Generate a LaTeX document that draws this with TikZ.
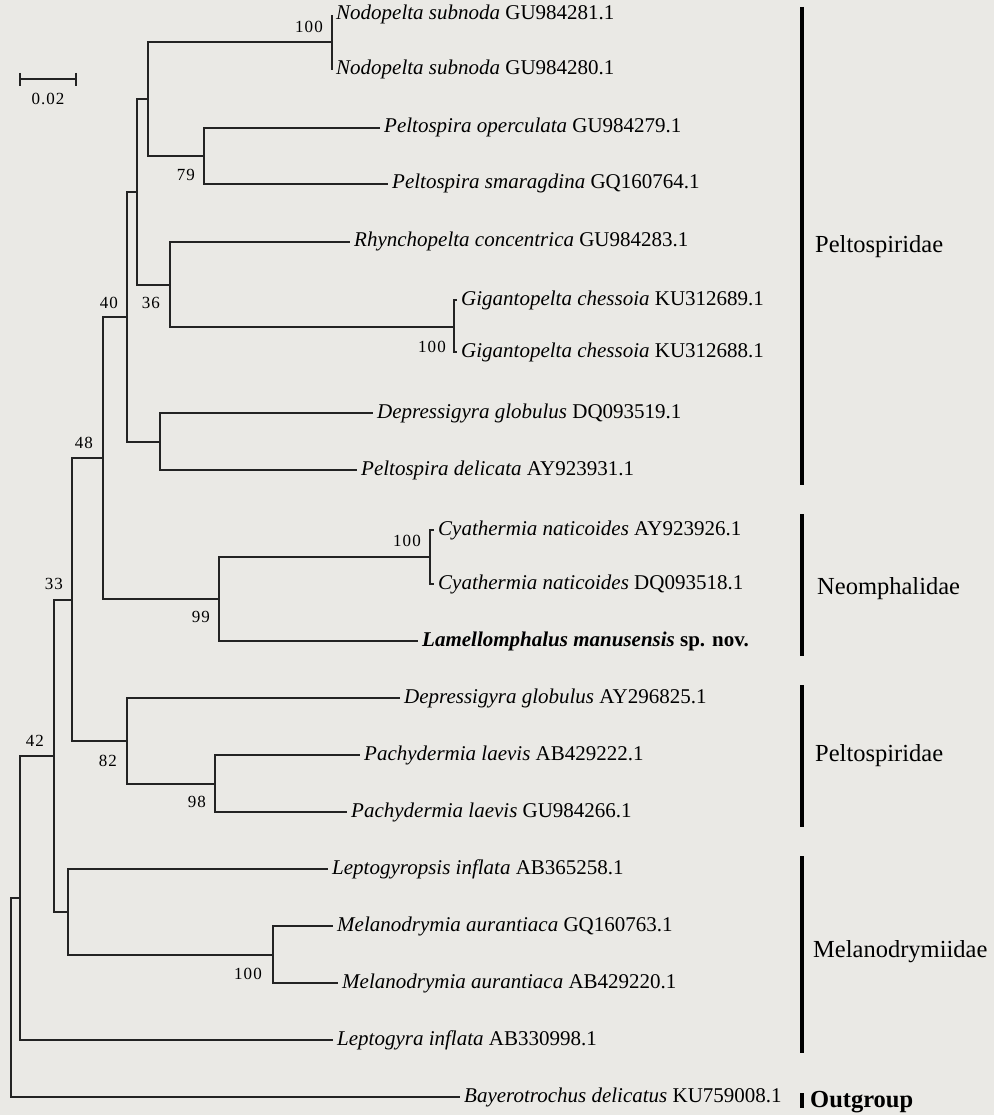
\documentclass[tikz,border=0pt]{standalone}
\usepackage{fontspec}
\setmainfont{Liberation Serif}
\newfontfamily\bootfont[LetterSpace=6]{Liberation Serif}
\definecolor{bgpaper}{RGB}{234,233,229}
\definecolor{treeline}{RGB}{35,35,35}
\tikzstyle{branch} = [draw=treeline, line width=1.2pt]
\tikzstyle{tip} = [anchor=west, 
inner xsep=4pt, 
inner ysep=2pt, 
text height=14.5pt, 
text depth=4.5pt, 
font=\fontsize{21}{25}\selectfont]
\tikzstyle{boot} = [inner sep=0pt, 
font=\bootfont\fontsize{17}{20}\selectfont]
\tikzstyle{cladebar} = [draw=black, line width=3.6pt]
\tikzstyle{clade} = [anchor=west, 
inner sep=0pt, 
font=\fontsize{24.5}{28}\selectfont]

\begin{document}
\begin{tikzpicture}[x=1pt, y=-1pt]
\useasboundingbox [fill=bgpaper] (0,0) rectangle (994,1115);

% tips
\node (t1) [tip] at (332,15) {\textit{Nodopelta subnoda} GU984281.1};
\node (t2) [tip] at (332,70) {\textit{Nodopelta subnoda} GU984280.1};
\node (t3) [tip] at (380,128) {\textit{Peltospira operculata} GU984279.1};
\node (t4) [tip] at (388,184) {\textit{Peltospira smaragdina} GQ160764.1};
\node (t5) [tip] at (350,242) {\textit{Rhynchopelta concentrica} GU984283.1};
\node (t6) [tip] at (457,300) {\textit{Gigantopelta chessoia} KU312689.1};
\node (t7) [tip] at (457,352) {\textit{Gigantopelta chessoia} KU312688.1};
\node (t8) [tip] at (373,413) {\textit{Depressigyra globulus} DQ093519.1};
\node (t9) [tip] at (357,470) {\textit{Peltospira delicata} AY923931.1};
\node (t10) [tip] at (434,530) {\textit{Cyathermia naticoides} AY923926.1};
\node (t11) [tip] at (434,584) {\textit{Cyathermia naticoides} DQ093518.1};
\node (t12) [tip] at (418,641) {\textbf{\textit{Lamellomphalus manusensis} sp. nov.}};
\node (t13) [tip] at (400,698) {\textit{Depressigyra globulus} AY296825.1};
\node (t14) [tip] at (360,755) {\textit{Pachydermia laevis} AB429222.1};
\node (t15) [tip] at (347,812) {\textit{Pachydermia laevis} GU984266.1};
\node (t16) [tip] at (328,869) {\textit{Leptogyropsis inflata} AB365258.1};
\node (t17) [tip] at (333,926) {\textit{Melanodrymia aurantiaca} GQ160763.1};
\node (t18) [tip] at (338,983) {\textit{Melanodrymia aurantiaca} AB429220.1};
\node (t19) [tip] at (333,1040) {\textit{Leptogyra inflata} AB330998.1};
\node (t20) [tip] at (460,1097) {\textit{Bayerotrochus delicatus} KU759008.1};

% internal nodes
\coordinate (nNod) at (332,42);
\coordinate (nPop) at (204,156);
\coordinate (nA) at (148,99);
\coordinate (nGig) at (454,327);
\coordinate (nRh) at (170,285);
\coordinate (nB) at (137,192);
\coordinate (nDep) at (160,442);
\coordinate (nC) at (127,317);
\coordinate (nCy) at (430,557);
\coordinate (nLam) at (219,599);
\coordinate (nD) at (103,458);
\coordinate (nPac) at (215,784);
\coordinate (nE) at (127,741);
\coordinate (nF) at (72,600);
\coordinate (nMel) at (273,955);
\coordinate (nG) at (68,912);
\coordinate (nH) at (54,756);
\coordinate (nI) at (20,898);
\coordinate (root) at (11,998);

\draw [branch] (nNod) |- (t1.west);
\draw [branch] (nNod) |- (t2.west);
\draw [branch] (nPop) |- (t3.west);
\draw [branch] (nPop) |- (t4.west);
\draw [branch] (nA) |- (nNod);
\draw [branch] (nA) |- (nPop);
\draw [branch] (nGig) |- (t6.west);
\draw [branch] (nGig) |- (t7.west);
\draw [branch] (nRh) |- (t5.west);
\draw [branch] (nRh) |- (nGig);
\draw [branch] (nB) |- (nA);
\draw [branch] (nB) |- (nRh);
\draw [branch] (nDep) |- (t8.west);
\draw [branch] (nDep) |- (t9.west);
\draw [branch] (nC) |- (nB);
\draw [branch] (nC) |- (nDep);
\draw [branch] (nCy) |- (t10.west);
\draw [branch] (nCy) |- (t11.west);
\draw [branch] (nLam) |- (nCy);
\draw [branch] (nLam) |- (t12.west);
\draw [branch] (nD) |- (nC);
\draw [branch] (nD) |- (nLam);
\draw [branch] (nPac) |- (t14.west);
\draw [branch] (nPac) |- (t15.west);
\draw [branch] (nE) |- (t13.west);
\draw [branch] (nE) |- (nPac);
\draw [branch] (nF) |- (nD);
\draw [branch] (nF) |- (nE);
\draw [branch] (nMel) |- (t17.west);
\draw [branch] (nMel) |- (t18.west);
\draw [branch] (nG) |- (t16.west);
\draw [branch] (nG) |- (nMel);
\draw [branch] (nH) |- (nF);
\draw [branch] (nH) |- (nG);
\draw [branch] (nI) |- (nH);
\draw [branch] (nI) |- (t19.west);
\draw [branch] (root) |- (nI);
\draw [branch] (root) |- (t20.west);

% bootstrap values
\node (bNod) [boot] at (309,27) {100};
\node (bPop) [boot] at (186,175) {79};
\node (bRh) [boot] at (151,303) {36};
\node (bC) [boot] at (109,303) {40};
\node (bGig) [boot] at (432,347) {100};
\node (bD) [boot] at (84,443) {48};
\node (bCy) [boot] at (407,541) {100};
\node (bF) [boot] at (54,584) {33};
\node (bLam) [boot] at (201,617) {99};
\node (bH) [boot] at (35,741) {42};
\node (bE) [boot] at (108,761) {82};
\node (bPac) [boot] at (197,802) {98};
\node (bMel) [boot] at (248,974) {100};

% scale bar
\coordinate (sbL) at (20,79);
\coordinate (sbR) at (76,79);
\draw [branch] (sbL) -- (sbR);
\draw [branch] (20,73) -- (20,86);
\draw [branch] (76,73) -- (76,86);
\node (sbText) [boot] at (48,99) {0.02};

% clades
\draw [cladebar] (802,7) -- (802,485);
\node (c1) [clade] at (815,247) {Peltospiridae};
\draw [cladebar] (802,514) -- (802,656);
\node (c2) [clade] at (817,589) {Neomphalidae};
\draw [cladebar] (802,685) -- (802,827);
\node (c3) [clade] at (815,756) {Peltospiridae};
\draw [cladebar] (802,856) -- (802,1053);
\node (c4) [clade] at (813,952) {Melanodrymiidae};
\draw [cladebar] (802,1093) -- (802,1108);
\node (c5) [clade] at (810,1102) {\textbf{Outgroup}};

\end{tikzpicture}
\end{document}
